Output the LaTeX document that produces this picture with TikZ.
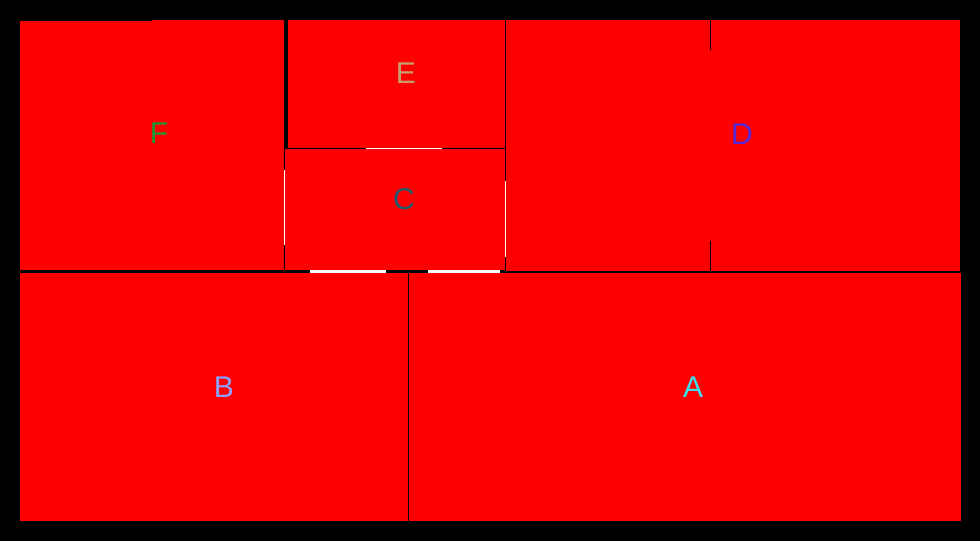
\documentclass[tikz,border=0pt]{standalone}
\usepackage{fontspec}
\setmainfont{Liberation Sans}
\definecolor{fgreen}{RGB}{30,150,55}
\definecolor{etan}{RGB}{200,160,110}
\definecolor{cteal}{RGB}{25,90,110}
\definecolor{dviolet}{RGB}{80,40,220}
\definecolor{bblue}{RGB}{140,160,255}
\definecolor{acyan}{RGB}{60,225,240}
\begin{document}
\begin{tikzpicture}[x=1pt, y=-1pt]
    % Styles
    \tikzstyle{cell} = [fill=red, draw=none]
    \tikzstyle{tag} = [font=\fontsize{30}{30}\selectfont, inner sep=0pt]
    \tikzstyle{seam} = [line width=1pt]

    % Background
    \fill [black] (0,0) rectangle (980,541);
    \useasboundingbox (0,0) rectangle (980,541);

    % Cells
    \fill [cell] (20,21) rectangle (283.5,270);
    \fill [cell] (152,20) rectangle (283.5,21);
    \fill [cell] (288,20) rectangle (504.5,147.5);
    \fill [cell] (285,149) rectangle (504.5,270);
    \fill [cell] (506,20) rectangle (960,270.5);
    \fill [cell] (20,272.7) rectangle (407.8,521);
    \fill [cell] (409,272.7) rectangle (961,521);

    % Seams
    \draw [seam, black] (710,20) -- (710,50);
    \draw [seam, black] (710,241) -- (710,270.5);
    \draw [seam, white, line width=2.5pt] (310,271.3) -- (386,271.3);
    \draw [seam, white, line width=2.5pt] (428,271.3) -- (500,271.3);
    \draw [seam, white] (366,148.3) -- (442,148.3);
    \draw [seam, white] (284.3,170) -- (284.3,245);
    \draw [seam, white] (505.3,181) -- (505.3,257);

    % Labels
    \node [tag, text=fgreen] (f) at (159,133) {F};
    \node [tag, text=etan] (e) at (406,73) {E};
    \node [tag, text=cteal] (c) at (404,199) {C};
    \node [tag, text=dviolet] (d) at (742,134) {D};
    \node [tag, text=bblue] (b) at (224,387) {B};
    \node [tag, text=acyan] (a) at (693,387) {A};
\end{tikzpicture}
\end{document}
